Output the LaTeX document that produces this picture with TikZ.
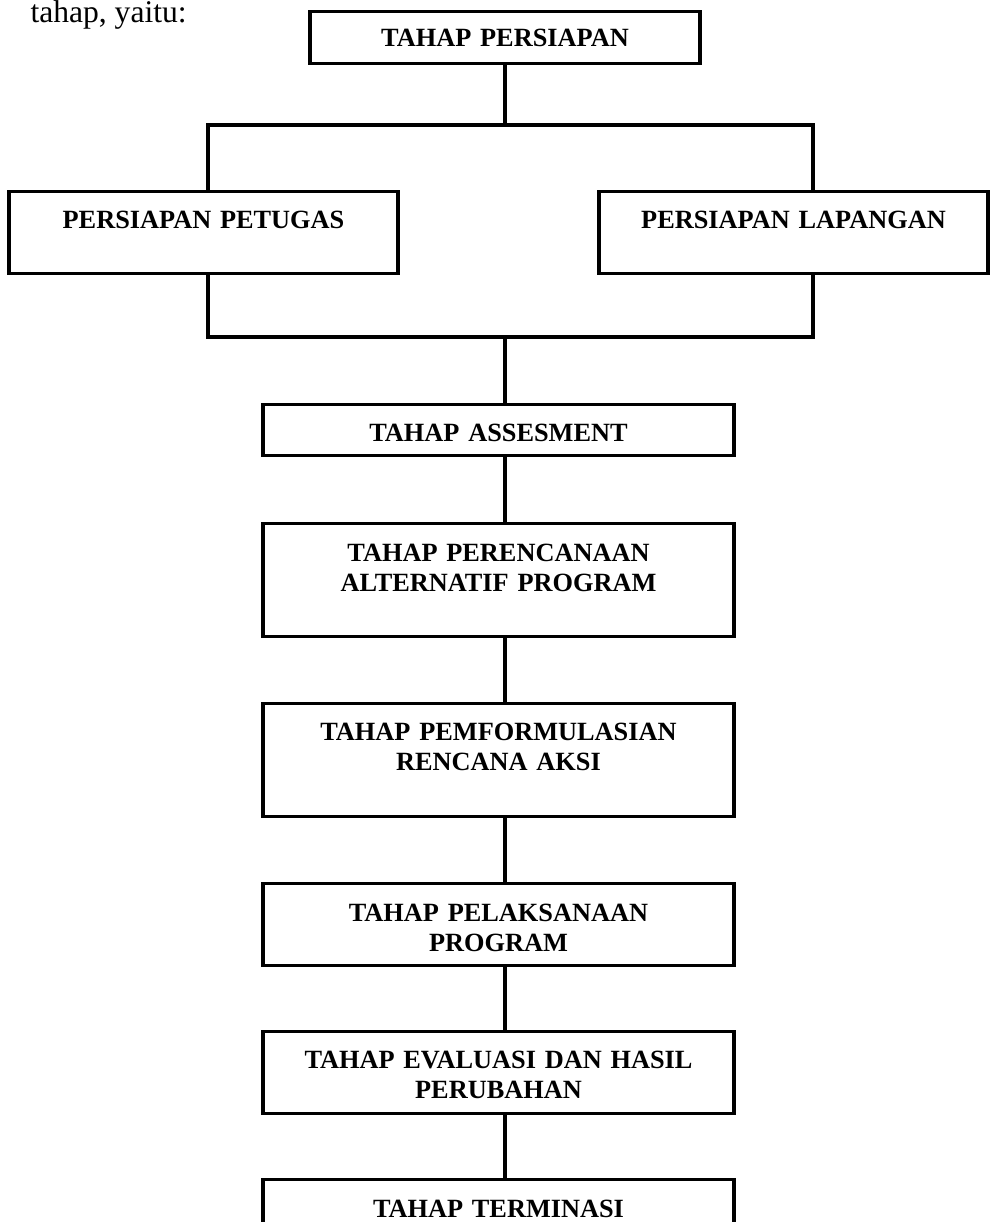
\documentclass[tikz,border=0pt]{standalone}
\usepackage{fontspec}
\setmainfont{Liberation Serif}
\usepackage{tikz}
\tikzstyle{stage}=[rectangle,draw=black,line width=1.25pt,inner sep=0pt,
  anchor=north,align=center,font=\fontsize{10}{11.4}\selectfont\bfseries]
\tikzstyle{txt}=[anchor=base west,inner sep=0pt,font=\fontsize{12}{14}\selectfont]
\tikzstyle{link}=[line width=1.25pt]
\tikzstyle{none}=[]

\begin{document}
\begin{tikzpicture}[x=0.38pt, y=-0.38pt]
  \useasboundingbox (0, 0) rectangle (990, 1222);
  \node [style=txt] (intro) at (30, 23) {tahap, yaitu:};
  \node [style=stage, text width=148.2pt, text height=13.3pt, text depth=6.46pt] (persiapan) at (505, 10) {TAHAP PERSIAPAN};
  \node [style=stage, text width=147.8pt, text height=14.06pt, text depth=17.1pt] (petugas) at (203.5, 190) {PERSIAPAN PETUGAS};
  \node [style=stage, text width=147.8pt, text height=14.06pt, text depth=17.1pt] (lapangan) at (793.5, 190) {PERSIAPAN LAPANGAN};
  \node [style=stage, text width=179pt, text height=14.06pt, text depth=5.32pt] (assesment) at (498.5, 403) {TAHAP ASSESMENT};
  \node [style=stage, text width=179pt, text height=14.44pt, text depth=28.5pt] (perencanaan) at (498.5, 522) {TAHAP PERENCANAAN\\ALTERNATIF PROGRAM};
  \node [style=stage, text width=179pt, text height=14.06pt, text depth=28.88pt] (pemformulasian) at (498.5, 702) {TAHAP PEMFORMULASIAN\\RENCANA AKSI};
  \node [style=stage, text width=179pt, text height=14.44pt, text depth=16.72pt] (pelaksanaan) at (498.5, 882) {TAHAP PELAKSANAAN\\PROGRAM};
  \node [style=stage, text width=179pt, text height=14.06pt, text depth=17.1pt] (evaluasi) at (498.5, 1030) {TAHAP EVALUASI DAN HASIL\\PERUBAHAN};
  \node [style=stage, text width=179pt, text height=14.44pt, text depth=11.4pt] (terminasi) at (498.5, 1178) {TAHAP TERMINASI};
  \coordinate (split) at (505, 125);
  \coordinate (splitL) at (208, 125);
  \coordinate (splitR) at (813, 125);
  \coordinate (join) at (505, 337);
  \coordinate (joinL) at (208, 337);
  \coordinate (joinR) at (813, 337);
  \draw [style=link] (persiapan.south) to (split);
  \draw [style=link] (splitL |- petugas.north) -- (splitL) -- (splitR) -- (splitR |- lapangan.north);
  \draw [style=link] (petugas.south -| joinL) -- (joinL) -- (joinR) -- (lapangan.south -| joinR);
  \draw [style=link] (join) to (join |- assesment.north);
  \draw [style=link] (assesment.south -| join) to (perencanaan.north -| join);
  \draw [style=link] (perencanaan.south -| join) to (pemformulasian.north -| join);
  \draw [style=link] (pemformulasian.south -| join) to (pelaksanaan.north -| join);
  \draw [style=link] (pelaksanaan.south -| join) to (evaluasi.north -| join);
  \draw [style=link] (evaluasi.south -| join) to (terminasi.north -| join);
\end{tikzpicture}
\end{document}
